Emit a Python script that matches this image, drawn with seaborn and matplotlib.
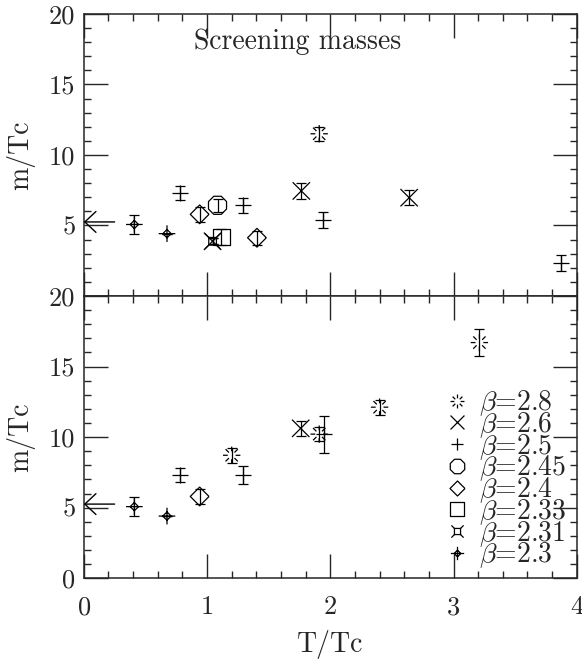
import numpy as np
import pandas as pd
import matplotlib
matplotlib.use("Agg")
import matplotlib.pyplot as plt
from matplotlib.path import Path
from matplotlib.markers import MarkerStyle
from matplotlib.lines import Line2D
from matplotlib.ticker import MultipleLocator
import seaborn as sns

# beta values, in legend order
betas = ["2.8", "2.6", "2.5", "2.45", "2.4", "2.33", "2.31", "2.3"]

# zero temperature mass (arrow at T=0)
m_T0 = 5.25

# upper panel
top_beta = ["2.3", "2.3", "2.5", "2.4", "2.45", "2.31", "2.6", "2.33",
            "2.5", "2.4", "2.6", "2.8", "2.5", "2.6", "2.5"]
top_T = [0.41, 0.675, 0.78, 0.94, 1.085, 1.045, 1.045, 1.115,
         1.29, 1.405, 1.765, 1.91, 1.94, 2.64, 3.87]
top_m = [5.07, 4.42, 7.28, 5.79, 6.43, 3.88, 3.88, 4.18,
         6.43, 4.13, 7.45, 11.5, 5.37, 6.97, 2.32]
top_err = [0.65, 0.0, 0.5, 0.55, 0.45, 0.2, 0.2, 0.55,
           0.55, 0.5, 0.55, 0.5, 0.55, 0.53, 0.57]

# lower panel
bot_beta = ["2.3", "2.3", "2.5", "2.4", "2.8", "2.5", "2.6", "2.8", "2.5", "2.8", "2.8"]
bot_T = [0.41, 0.675, 0.78, 0.94, 1.20, 1.29, 1.76, 1.91, 1.95, 2.40, 3.21]
bot_m = [5.07, 4.40, 7.29, 5.79, 8.71, 7.31, 10.62, 10.21, 10.21, 12.12, 16.7]
bot_err = [0.65, 0.0, 0.5, 0.5, 0.55, 0.63, 0.54, 0.5, 1.31, 0.54, 0.95]


def segs(*lines):
    verts, codes = [], []
    for line in lines:
        for i, p in enumerate(line):
            verts.append(p)
            codes.append(Path.MOVETO if i == 0 else Path.LINETO)
    return Path(verts, codes)


# marker shapes
ang = np.deg2rad(np.arange(0, 360, 45))
burst = segs(*[[(0.45 * np.cos(a), 0.45 * np.sin(a)), (np.cos(a), np.sin(a))] for a in ang])
cross = segs([(-1, -1), (1, 1)], [(-1, 1), (1, -1)])
plus = segs([(-1, 0), (1, 0)], [(0, -1), (0, 1)])
octa = segs([(np.cos(a + np.pi / 8), np.sin(a + np.pi / 8)) for a in np.append(ang, ang[0])])
diam = segs([(1, 0), (0, 1), (-1, 0), (0, -1), (1, 0)])
sq = segs([(1, 1), (-1, 1), (-1, -1), (1, -1), (1, 1)])
sq_t = segs([(0.5, 0.5), (-0.5, 0.5), (-0.5, -0.5), (0.5, -0.5), (0.5, 0.5)],
            [(0.5, 0.5), (1, 1)], [(-0.5, 0.5), (-1, 1)],
            [(-0.5, -0.5), (-1, -1)], [(0.5, -0.5), (1, -1)])
dplus = segs([(0.5, 0), (0, 0.5), (-0.5, 0), (0, -0.5), (0.5, 0)],
             [(-1, 0), (1, 0)], [(0, -1), (0, 1)])

MARKERS = {"2.8": burst, "2.6": cross, "2.5": plus, "2.45": octa,
           "2.4": diam, "2.33": sq, "2.31": sq_t, "2.3": dplus}
SIZES = {"2.8": 12.5, "2.6": 12.5, "2.5": 11.5, "2.45": 13,
         "2.4": 13.5, "2.33": 12, "2.31": 11, "2.3": 12}

sns.set_style("ticks")
plt.rcParams["font.family"] = ["cmr10", "DejaVu Serif"]
plt.rcParams["mathtext.fontset"] = "cm"
plt.rcParams["axes.unicode_minus"] = False
plt.rcParams["axes.formatter.use_mathtext"] = True

fig, axes = plt.subplots(2, 1, figsize=(5.82, 6.6), dpi=100, sharex=True,
                         gridspec_kw=dict(hspace=0))
fig.subplots_adjust(left=0.144, right=0.991, top=0.979, bottom=0.124)


def draw_panel(ax, beta_col, T, m, err):
    df = pd.DataFrame({"beta": beta_col, "T": T, "m": m, "err": err})
    ax.errorbar(df["T"], df["m"], yerr=df["err"], fmt="none", ecolor="k",
                elinewidth=0.9, capsize=3.5, capthick=0.9, zorder=2)
    for b in betas:
        sub = df[df["beta"] == b]
        if len(sub) == 0:
            continue
        sns.scatterplot(data=sub, x="T", y="m", marker=MARKERS[b], s=SIZES[b] ** 2,
                        facecolor="none", edgecolor="k", linewidth=0.9,
                        legend=False, zorder=3, ax=ax)
    ax.annotate("", xy=(0, m_T0), xytext=(0.25, m_T0),
                arrowprops=dict(arrowstyle="->,head_length=0.8,head_width=0.75",
                                lw=1, color="k", shrinkA=0, shrinkB=0))


draw_panel(axes[0], top_beta, top_T, top_m, top_err)
draw_panel(axes[1], bot_beta, bot_T, bot_m, bot_err)

for ax in axes:
    ax.set_xlim(0, 4)
    ax.set_ylim(0, 20)
    ax.xaxis.set_major_locator(MultipleLocator(1))
    ax.xaxis.set_minor_locator(MultipleLocator(0.2))
    ax.yaxis.set_minor_locator(MultipleLocator(1))
    ax.tick_params(which="both", direction="in", top=True, right=True, width=1, labelsize=19)
    ax.tick_params(which="major", length=17)
    ax.tick_params(which="minor", length=5)
    ax.tick_params(axis="x", pad=12.5)
    ax.tick_params(axis="y", pad=6)
    ax.set_ylabel("m/Tc", fontsize=20)
    ax.yaxis.set_label_coords(-0.098, 0.5)
    for s in ax.spines.values():
        s.set_linewidth(1.1)

axes[0].set_yticks([0, 5, 10, 15, 20], ["", "5", "10", "15", "20"])
axes[1].set_yticks([0, 5, 10, 15, 20], ["0", "5", "10", "15", "20"])
axes[0].set_xlabel("")
axes[1].set_xlabel("T/Tc", fontsize=20)
axes[1].xaxis.set_label_coords(0.5, -0.185)

axes[0].text(0.434, 0.9, "Screening masses", transform=axes[0].transAxes,
             ha="center", va="center", fontsize=20)

handles = [Line2D([], [], marker=MarkerStyle(MARKERS[b]), ms=SIZES[b] * 0.8, mfc="none",
                  mec="k", mew=0.9, ls="none") for b in betas]
labels = [r"$\beta$=" + b for b in betas]
axes[1].legend(handles, labels, loc="lower left", bbox_to_anchor=(0.732, 0.028),
               frameon=False, fontsize=20, labelspacing=-0.29, handlelength=0.9,
               handletextpad=0.35, borderpad=0, borderaxespad=0)

fig.savefig("out.png", dpi=100)
